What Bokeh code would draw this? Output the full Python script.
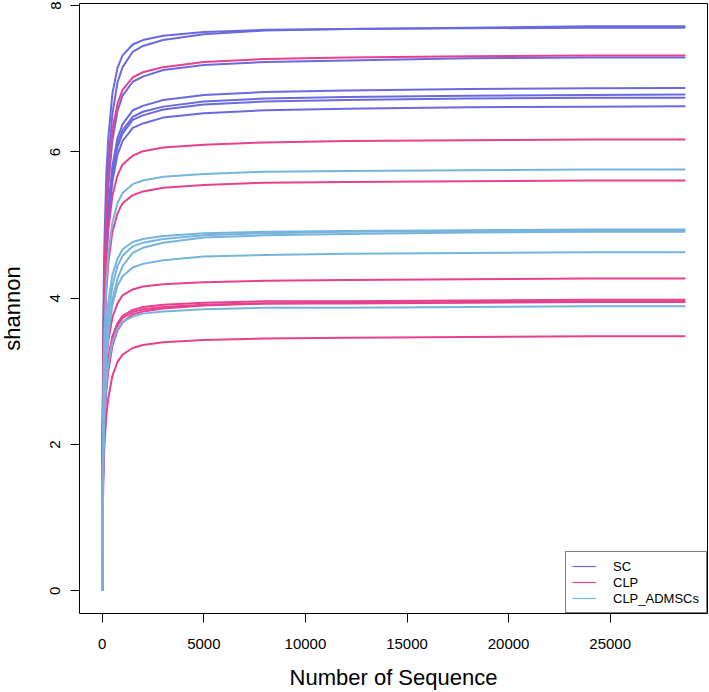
from bokeh.plotting import figure
from bokeh.models import Range1d, FixedTicker, Legend, LegendItem, ColumnDataSource
from bokeh.embed import file_html
from bokeh.resources import INLINE

# rarefaction depths (Number of Sequence)
depth = [0, 25, 50, 100, 200, 300, 500, 750, 1000, 1500, 2000, 3000, 5000, 8000, 12000, 18000, 24000, 28700]

# Shannon index, one list per sample
sc_curves = [
    [0, 2.32, 3.24, 4.32, 5.33, 5.87, 6.52, 6.95, 7.16, 7.37, 7.45, 7.53, 7.61, 7.66, 7.68, 7.70, 7.72, 7.72],
    [0, 2.60, 3.60, 4.70, 5.70, 6.20, 6.80, 7.15, 7.32, 7.47, 7.53, 7.59, 7.64, 7.67, 7.68, 7.69, 7.70, 7.70],
    [0, 2.19, 3.06, 4.08, 5.03, 5.54, 6.16, 6.56, 6.77, 6.96, 7.03, 7.12, 7.19, 7.23, 7.25, 7.28, 7.29, 7.29],
    [0, 2.06, 2.89, 3.85, 4.74, 5.23, 5.81, 6.19, 6.38, 6.57, 6.63, 6.71, 6.78, 6.82, 6.84, 6.86, 6.87, 6.875],
    [0, 2.04, 2.85, 3.80, 4.68, 5.16, 5.73, 6.11, 6.30, 6.48, 6.55, 6.62, 6.69, 6.73, 6.75, 6.77, 6.78, 6.785],
    [0, 2.02, 2.83, 3.77, 4.65, 5.12, 5.70, 6.07, 6.25, 6.44, 6.50, 6.58, 6.65, 6.69, 6.71, 6.73, 6.74, 6.74],
    [0, 1.99, 2.78, 3.71, 4.57, 5.04, 5.60, 5.96, 6.15, 6.33, 6.39, 6.47, 6.53, 6.57, 6.59, 6.61, 6.62, 6.625],
]
clp_curves = [
    [0, 2.30, 3.20, 4.25, 5.20, 5.70, 6.30, 6.66, 6.85, 7.02, 7.09, 7.16, 7.23, 7.27, 7.29, 7.31, 7.32, 7.32],
    [0, 2.04, 2.84, 3.70, 4.50, 4.94, 5.40, 5.68, 5.83, 5.95, 6.01, 6.06, 6.10, 6.13, 6.15, 6.16, 6.17, 6.17],
    [0, 1.85, 2.58, 3.37, 4.10, 4.49, 4.91, 5.16, 5.30, 5.41, 5.46, 5.51, 5.55, 5.58, 5.59, 5.60, 5.61, 5.61],
    [0, 1.41, 1.96, 2.56, 3.12, 3.42, 3.74, 3.93, 4.04, 4.12, 4.16, 4.19, 4.22, 4.24, 4.25, 4.26, 4.27, 4.27],
    [0, 1.31, 1.83, 2.39, 2.91, 3.18, 3.48, 3.66, 3.76, 3.84, 3.88, 3.91, 3.94, 3.96, 3.96, 3.97, 3.98, 3.98],
    [0, 1.19, 1.66, 2.22, 2.73, 3.01, 3.35, 3.56, 3.67, 3.78, 3.82, 3.86, 3.90, 3.93, 3.94, 3.95, 3.96, 3.96],
    [0, 1.30, 1.82, 2.37, 2.88, 3.16, 3.46, 3.63, 3.73, 3.81, 3.85, 3.88, 3.91, 3.93, 3.93, 3.94, 3.95, 3.95],
    [0, 1.04, 1.46, 1.95, 2.40, 2.64, 2.94, 3.13, 3.23, 3.32, 3.36, 3.40, 3.43, 3.45, 3.46, 3.47, 3.48, 3.48],
]
admsc_curves = [
    [0, 1.90, 2.65, 3.46, 4.20, 4.61, 5.04, 5.30, 5.44, 5.56, 5.61, 5.66, 5.70, 5.73, 5.74, 5.75, 5.76, 5.76],
    [0, 1.63, 2.27, 2.96, 3.61, 3.95, 4.32, 4.54, 4.67, 4.77, 4.81, 4.85, 4.89, 4.91, 4.92, 4.93, 4.94, 4.94],
    [0, 1.48, 2.07, 2.76, 3.40, 3.75, 4.17, 4.44, 4.58, 4.71, 4.76, 4.81, 4.86, 4.89, 4.91, 4.92, 4.93, 4.93],
    [0, 1.33, 1.87, 2.50, 3.14, 3.54, 3.98, 4.27, 4.44, 4.62, 4.69, 4.76, 4.83, 4.86, 4.88, 4.90, 4.91, 4.91],
    [0, 1.39, 1.94, 2.59, 3.19, 3.52, 3.91, 4.17, 4.30, 4.42, 4.47, 4.52, 4.57, 4.59, 4.61, 4.62, 4.63, 4.63],
    [0, 1.28, 1.79, 2.33, 2.84, 3.11, 3.40, 3.58, 3.68, 3.75, 3.79, 3.82, 3.85, 3.87, 3.87, 3.88, 3.89, 3.89],
]

groups = ["SC", "CLP", "CLP_ADMSCs"]
colors = ["#6a6ade", "#e6408e", "#76b4dd"]
x_ticks = [0, 5000, 10000, 15000, 20000, 25000]
y_ticks = [0, 2, 4, 6, 8]

FONT = "Liberation Sans"

p = figure(width=718, height=692, output_backend="svg", toolbar_location=None,
           x_range=Range1d(-1120, 29790), y_range=Range1d(-0.31, 8.03),
           min_border_left=88, min_border_right=2, min_border_top=3, min_border_bottom=79)
p.styles = {"position": "absolute", "left": "-9px", "top": "0px"}
p.grid.visible = False
p.outline_line_color = "black"
p.outline_line_width = 1
p.outline_line_alpha = 1.0
p.background_fill_color = "white"
p.border_fill_color = "white"

for curves, col in zip([sc_curves, clp_curves, admsc_curves], colors):
    for ys in curves:
        p.line(x=depth, y=ys, line_color=col, line_width=2)

for ax, ticks in ((p.xaxis[0], x_ticks), (p.yaxis[0], y_ticks)):
    ax.ticker = FixedTicker(ticks=ticks)
    ax.minor_tick_line_color = None
    ax.major_tick_out = 9
    ax.major_tick_in = 0
    ax.major_tick_line_color = "black"
    ax.axis_line_color = None
    ax.major_label_text_font = FONT
    ax.major_label_text_font_size = "15px"
    ax.major_label_text_color = "black"
    ax.axis_label_text_font = FONT
    ax.axis_label_text_font_size = "22px"
    ax.axis_label_text_font_style = "normal"
    ax.axis_label_text_color = "black"

p.xaxis[0].axis_label = "Number of Sequence"
p.yaxis[0].axis_label = "shannon"
p.xaxis[0].major_label_standoff = 16
p.xaxis[0].axis_label_standoff = 13
p.yaxis[0].major_label_orientation = "vertical"
p.yaxis[0].major_label_standoff = 10
p.yaxis[0].axis_label_standoff = 23

# legend keys: one-point lines (draw nothing in the plot area)
items = []
for g, col, curves in zip(groups, colors, [sc_curves, clp_curves, admsc_curves]):
    src = ColumnDataSource(data=dict(x=depth[:1], y=curves[0][:1]))
    r = p.line(x="x", y="y", source=src, line_color=col, line_width=1.2)
    items.append(LegendItem(label=g, renderers=[r]))

legend = Legend(items=items, location="bottom_right", margin=0, padding=6, spacing=0,
                label_height=16, glyph_height=16, glyph_width=24, label_standoff=17,
                label_width=87, border_line_color="black", border_line_width=1,
                background_fill_color="white", background_fill_alpha=1.0,
                label_text_font=FONT, label_text_font_size="13px", label_text_color="black")
p.add_layout(legend, "center")

open("out.html", "w").write(file_html(p, INLINE))
